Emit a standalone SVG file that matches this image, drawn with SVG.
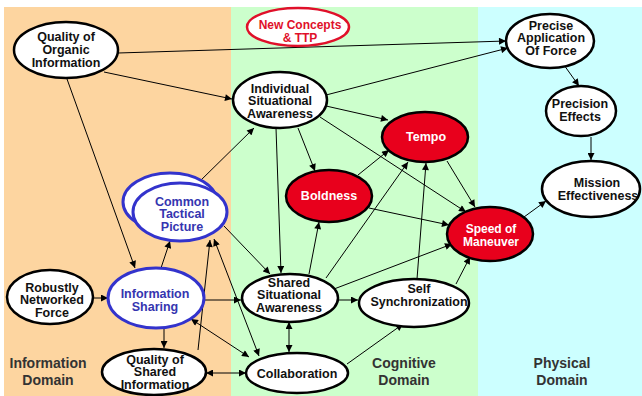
<svg xmlns="http://www.w3.org/2000/svg" width="642" height="396" viewBox="0 0 642 396">
<defs>
<marker id="ah" viewBox="0 0 10 10" refX="10" refY="5" markerWidth="8" markerHeight="7" markerUnits="userSpaceOnUse" orient="auto-start-reverse">
<path d="M0,0 L10,5 L0,10 z" fill="#000"/>
</marker>
<style>
.n{fill:#fff;stroke:#000;stroke-width:2.5}
.r{fill:#e8001c;stroke:#000;stroke-width:2.5}
.b{fill:#fff;stroke:#3333cc;stroke-width:3}
.nc{fill:#fff;stroke:#e0102a;stroke-width:2.5}
text{font-family:"Liberation Sans",Arial,sans-serif;font-weight:bold;font-size:12.5px;text-anchor:middle}
.t{fill:#111}
.w{fill:#fff}
.bt{fill:#3535b0}
.rt{fill:#e0102a}
.s{font-size:12px}
.d{fill:#333;font-size:14px}
#edges line{stroke:#000;stroke-width:1;marker-end:url(#ah)}
#edges line.bi{marker-start:url(#ah)}
</style>
</defs>
<rect x="4" y="7" width="227" height="389" fill="#fdd5a0"/>
<rect x="231" y="7" width="247" height="389" fill="#ccffcc"/>
<rect x="478" y="7" width="164" height="389" fill="#ccffff"/>
<g id="labels">
<text class="d" x="48" y="368">Information</text>
<text class="d" x="48" y="385">Domain</text>
<text class="d" x="404" y="368">Cognitive</text>
<text class="d" x="404" y="385">Domain</text>
<text class="d" x="562" y="368">Physical</text>
<text class="d" x="562" y="385">Domain</text>
</g>
<g id="edges">
<line x1="118" y1="53" x2="506" y2="41"/>
<line x1="104" y1="72" x2="232" y2="99"/>
<line x1="67" y1="79" x2="135" y2="268"/>
<line x1="326" y1="95" x2="508" y2="48"/>
<line x1="198" y1="183" x2="254" y2="128"/>
<line x1="326" y1="106" x2="388" y2="120"/>
<line x1="298" y1="128" x2="315" y2="171"/>
<line x1="320" y1="117" x2="466" y2="212"/>
<line x1="276" y1="128" x2="281" y2="273"/>
<line x1="309" y1="274" x2="319" y2="222"/>
<line x1="326" y1="278" x2="408" y2="162"/>
<line x1="334" y1="289" x2="452" y2="244"/>
<line x1="417" y1="279" x2="426" y2="163"/>
<line x1="456" y1="284" x2="470" y2="257"/>
<line x1="338" y1="300" x2="358" y2="300"/>
<line x1="347" y1="364" x2="403" y2="324"/>
<line class="bi" x1="289" y1="322" x2="289" y2="352"/>
<line x1="204" y1="300" x2="241" y2="300"/>
<line x1="224" y1="226" x2="270" y2="274"/>
<line class="bi" x1="214" y1="239" x2="259" y2="356"/>
<line class="bi" x1="191" y1="319" x2="249" y2="357"/>
<line class="bi" x1="206" y1="373" x2="246" y2="373"/>
<line x1="164" y1="328" x2="164" y2="348"/>
<line x1="161" y1="268" x2="170" y2="241"/>
<line x1="93" y1="298" x2="108" y2="298"/>
<line x1="524" y1="217" x2="546" y2="201"/>
<line x1="564" y1="65" x2="579" y2="86"/>
<line x1="591" y1="137" x2="591" y2="160"/>
<line x1="358" y1="175" x2="389" y2="150"/>
<line x1="369" y1="208" x2="449" y2="225"/>
<line x1="447" y1="161" x2="475" y2="207"/>
<line x1="198" y1="350" x2="210" y2="240"/>
</g>
<g id="qoi"><ellipse class="n" cx="66" cy="50" rx="52" ry="28"/>
<text class="t" x="66" y="41">Quality of</text><text class="t" x="66" y="54">Organic</text><text class="t" x="66" y="67">Information</text></g>
<g id="newconcepts"><ellipse class="nc" cx="298" cy="27" rx="51" ry="19"/>
<text class="rt s" x="300" y="28.5">New Concepts</text><text class="rt s" x="300" y="41.5">&amp; TTP</text></g>
<g id="isa"><ellipse class="n" cx="280" cy="100" rx="47" ry="28"/>
<text class="t" x="280" y="92.5">Individual</text><text class="t" x="280" y="105">Situational</text><text class="t" x="280" y="117.5">Awareness</text></g>
<g id="tempo"><ellipse class="r" cx="425" cy="137" rx="43" ry="25"/>
<text class="w" x="426" y="141">Tempo</text></g>
<g id="boldness"><ellipse class="r" cx="329" cy="196" rx="43" ry="26"/>
<text class="w" x="329" y="200">Boldness</text></g>
<g id="paf"><ellipse class="n" cx="550" cy="41" rx="44" ry="27"/>
<text class="t" x="551" y="29.5">Precise</text><text class="t" x="551" y="42">Application</text><text class="t" x="551" y="54.5">Of Force</text></g>
<g id="pe"><ellipse class="n" cx="581" cy="111" rx="35" ry="25"/>
<text class="t" x="580" y="107.5">Precision</text><text class="t" x="580" y="121">Effects</text></g>
<g id="me"><ellipse class="n" cx="591" cy="189" rx="49" ry="28"/>
<text class="t" x="597" y="186.5">Mission</text><text class="t" x="598" y="199.5">Effectiveness</text></g>
<g id="ctp"><ellipse class="b" cx="170" cy="202" rx="47" ry="29"/>
<ellipse class="b" cx="180" cy="212" rx="47" ry="29"/>
<text class="bt" x="182" y="205.5">Common</text><text class="bt" x="182" y="218">Tactical</text><text class="bt" x="182" y="230.5">Picture</text></g>
<g id="rnf"><ellipse class="n" cx="50" cy="297" rx="43" ry="27"/>
<text class="t" x="52" y="291.5">Robustly</text><text class="t" x="52" y="304">Networked</text><text class="t" x="52" y="316.5">Force</text></g>
<g id="is"><ellipse class="b" cx="156" cy="298" rx="48" ry="30"/>
<text class="bt" x="155" y="297.5">Information</text><text class="bt" x="155" y="310.5">Sharing</text></g>
<g id="qsi"><ellipse class="n" cx="154" cy="372" rx="52" ry="23"/>
<text class="t" x="155" y="363.5">Quality of</text><text class="t" x="155" y="376">Shared</text><text class="t" x="155" y="388.5">Information</text></g>
<g id="ssa"><ellipse class="n" cx="290" cy="298" rx="48" ry="24"/>
<text class="t" x="289" y="286.5">Shared</text><text class="t" x="289" y="299">Situational</text><text class="t" x="289" y="311.5">Awareness</text></g>
<g id="selfsync"><ellipse class="n" cx="414" cy="303" rx="55" ry="24"/>
<text class="t" x="419" y="292.5">Self</text><text class="t" x="419" y="305.5">Synchronization</text></g>
<g id="collab"><ellipse class="n" cx="297" cy="373" rx="51" ry="20"/>
<text class="t" x="297" y="377.5">Collaboration</text></g>
<g id="speed"><ellipse class="r" cx="490" cy="234" rx="43" ry="27"/>
<text class="w s" x="491" y="232.5">Speed of</text><text class="w s" x="491" y="245.5">Maneuver</text></g>
</svg>
